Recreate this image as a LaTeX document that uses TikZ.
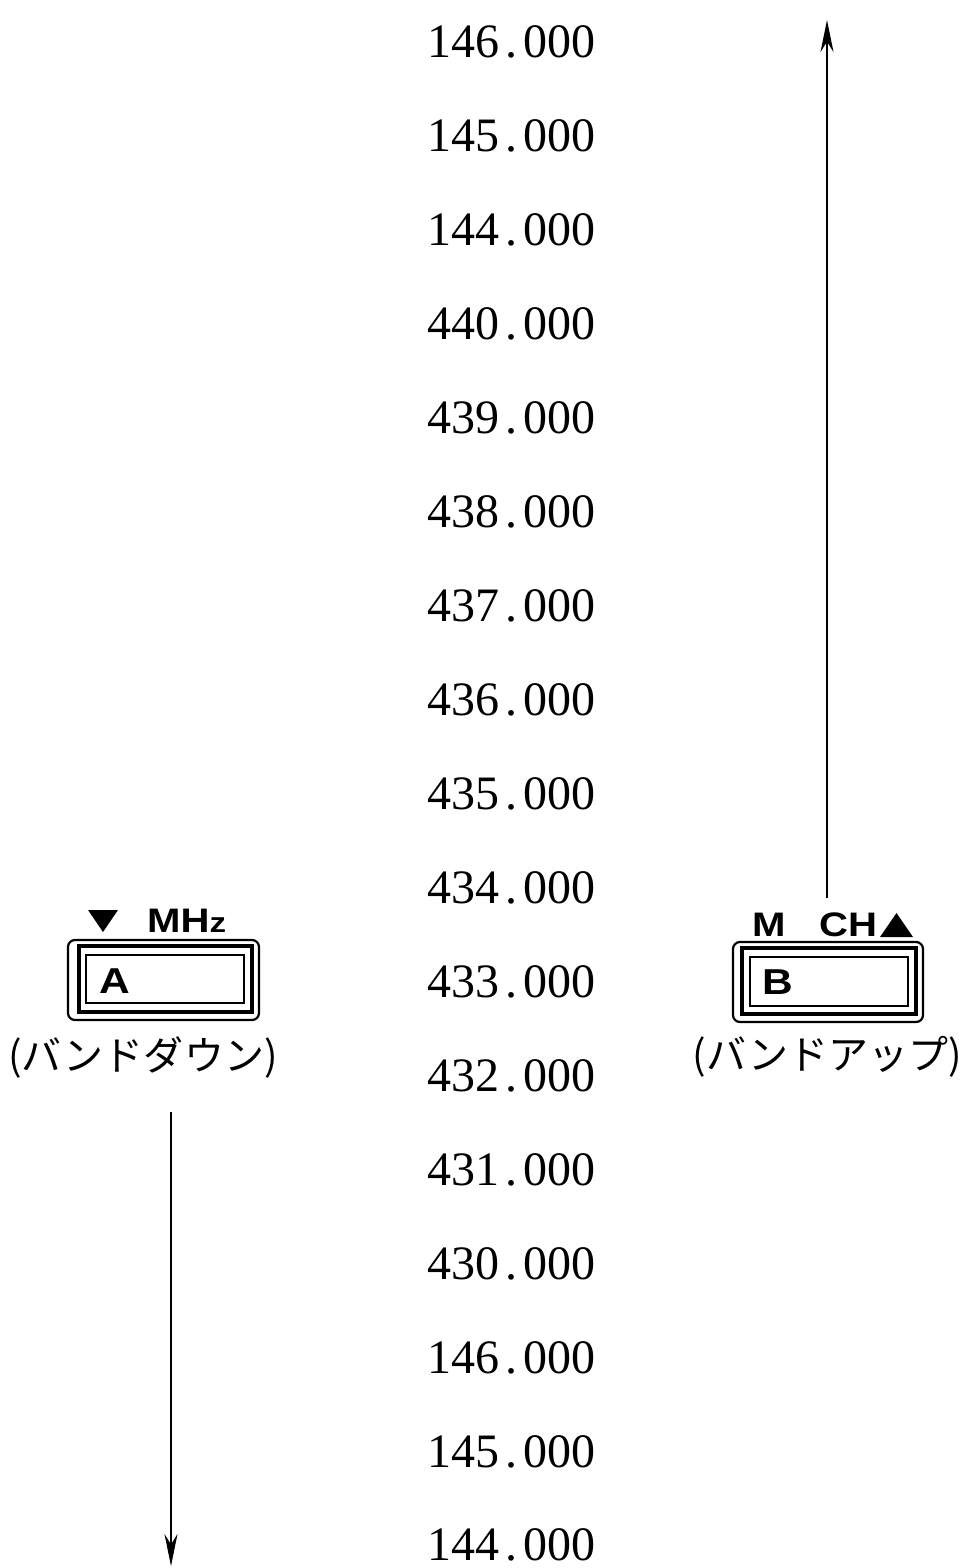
\documentclass[tikz,border=0pt]{standalone}
\usepackage{fontspec}
\setmainfont{Liberation Serif}
\newfontfamily\jpfont{Noto Sans CJK JP}
\newfontfamily\btnfont{Liberation Sans}
\usetikzlibrary{arrows.meta}
\newcommand{\freqnum}[2]{#1\makebox[0.5em][c]{.}#2}
\newcommand{\wide}[1]{\scalebox{1.18}[1]{#1}}
\begin{document}
\begin{tikzpicture}[x=1pt,y=-1pt,
  freq/.style={font=\fontsize{48}{48}\selectfont, inner sep=0pt, anchor=center},
  jplabel/.style={font=\jpfont\fontsize{40}{40}\selectfont, inner sep=0pt},
  btnlabel/.style={font=\btnfont\bfseries\fontsize{34}{34}\selectfont, inner sep=0pt},
  keyletter/.style={font=\btnfont\bfseries\fontsize{36}{36}\selectfont, inner sep=0pt, anchor=west},
  outerframe/.style={draw=black, line width=2.2pt, rounded corners=7pt},
  midframe/.style={draw=black, line width=4.5pt},
  innerframe/.style={draw=black, line width=1.5pt},
  flow/.style={draw=black, line width=2pt, -{Stealth[length=32pt,width=13pt]}}
]
\useasboundingbox (0,0) rectangle (961,1568);

% frequency column
\foreach \i/\a/\yy in {1/146/42,2/145/136,3/144/230,4/440/324,5/439/418,6/438/512,7/437/606,8/436/700,9/435/794,10/434/888,11/433/982,12/432/1076,13/431/1170,14/430/1264,15/146/1358,16/145/1452,17/144/1545}{
  \node[freq] (n\i) at (511,\yy) {\freqnum{\a}{000}};
}

% key A
\draw[outerframe] (68,940) rectangle (259,1020);
\draw[midframe] (79,946) rectangle (252,1012);
\draw[innerframe] (86,955) rectangle (244,1003);
\node[keyletter] (keyA) at (99,981) {\wide{A}};
\fill (88,910) -- (118,910) -- (103,932) -- cycle;
\node[btnlabel, anchor=west] (mhz) at (147,921) {\wide{MH{\fontsize{28}{28}\selectfont z}}};
\node[jplabel] (downlbl) at (143,1057) {(バンドダウン)};

% key B
\draw[outerframe] (733,942) rectangle (923,1022);
\draw[midframe] (742,948) rectangle (916,1014);
\draw[innerframe] (750,957) rectangle (908,1006);
\node[keyletter] (keyB) at (762,982) {\wide{B}};
\node[btnlabel, anchor=west] (mlbl) at (752,925) {\wide{M}};
\node[btnlabel, anchor=west] (chlbl) at (819,925) {\wide{CH}};
\fill (880,937) -- (913,937) -- (896.5,913) -- cycle;
\node[jplabel] (uplbl) at (827,1057) {(バンドアップ)};

% arrows
\coordinate (upstart) at (827,898);
\coordinate (upend) at (827,20);
\coordinate (downstart) at (171,1112);
\coordinate (downend) at (171,1566);
\draw[flow] (upstart) -- (upend);
\draw[flow] (downstart) -- (downend);
\end{tikzpicture}
\end{document}
